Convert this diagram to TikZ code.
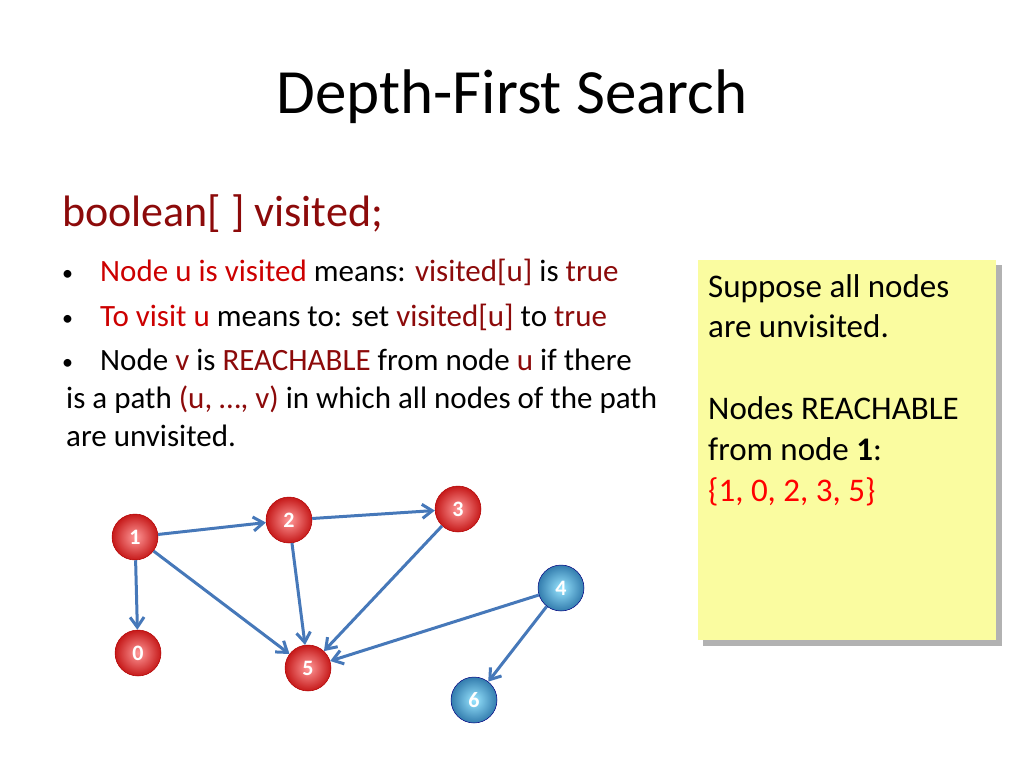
\documentclass[tikz,border=0pt]{standalone}
\usepackage{fontspec}
\setmainfont{Carlito}
\usetikzlibrary{arrows.meta,shadows}
\definecolor{hot}{RGB}{204,0,0}
\definecolor{dark}{RGB}{140,10,10}
\definecolor{edge}{RGB}{70,120,185}
\definecolor{pad}{RGB}{250,252,160}
\tikzset{
  vred/.style={circle,minimum size=46pt,inner sep=0pt,text=white,font=\fontsize{22}{22}\selectfont\bfseries,
    inner color=red!40!white,outer color=red!75!black!90,draw=red!70!black,line width=0.5pt},
  vblue/.style={vred,inner color=blue!25!cyan!40!white,outer color=blue!40!cyan!60!black!80,draw=blue!50!black},
  link/.style={-{Straight Barb[length=10pt,width=14pt]},draw=edge,line width=3pt},
  txt/.style={anchor=base west,inner sep=0pt,font=\fontsize{31}{34}\selectfont},
  padtxt/.style={txt,font=\fontsize{33}{36}\selectfont}
}
\begin{document}
\begin{tikzpicture}[x=1pt,y=-1pt]
\useasboundingbox (0,0) rectangle (1024,768);
\node (title) at (512,97) {\fontsize{63}{63}\selectfont Depth-First Search};
\node[txt,text=dark,font=\fontsize{44}{46}\selectfont] (decl) at (62,226) {boolean[ ] visited;};
\node[txt,font=\fontsize{22}{22}\selectfont] (b1) at (62,280) {•};
\node[txt] (l1) at (100,281) {\textcolor{hot}{Node u is visited} means: \textcolor{dark}{visited[u]} is \textcolor{dark}{true}};
\node[txt,font=\fontsize{22}{22}\selectfont] (b2) at (62,325) {•};
\node[txt] (l2) at (100,326) {\textcolor{hot}{To visit u} means to: set \textcolor{dark}{visited[u]} to \textcolor{dark}{true}};
\node[txt,font=\fontsize{22}{22}\selectfont] (b3) at (62,369) {•};
\node[txt] (l3) at (100,370) {Node \textcolor{dark}{v} is \textcolor{dark}{REACHABLE} from node \textcolor{dark}{u} if there};
\node[txt] (l4) at (66,408) {is a path \textcolor{dark}{(u, …, v)} in which all nodes of the path};
\node[txt] (l5) at (66,446) {are unvisited.};

% note pad
\fill[black!30] (703,265) rectangle (1002,646);
\fill[pad] (698,260) rectangle (996,640);
\node[padtxt] (p1) at (708,297) {Suppose all nodes};
\node[padtxt] (p2) at (708,337) {are unvisited.};
\node[padtxt] (p3) at (708,419) {Nodes REACHABLE};
\node[padtxt] (p4) at (708,460) {from node \textbf{1}:};
\node[padtxt,text=red] (p5) at (708,501) {\{1, 0, 2, 3, 5\}};

% graph
\node[vred] (v1) at (135,537) {1};
\node[vred] (v2) at (289,520) {2};
\node[vred] (v3) at (458,509) {3};
\node[vred] (v0) at (138,653) {0};
\node[vred] (v5) at (308,668) {5};
\node[vblue] (v4) at (561,588) {4};
\node[vblue] (v6) at (474,700) {6};
\draw[link] (v1) -- (v2);
\draw[link] (v2) -- (v3);
\draw[link] (v1) -- (v0);
\draw[link] (v1) -- (v5);
\draw[link] (v2) -- (v5);
\draw[link] (v3) -- (v5);
\draw[link] (v4) -- (v5);
\draw[link] (v4) -- (v6);
\end{tikzpicture}
\end{document}
